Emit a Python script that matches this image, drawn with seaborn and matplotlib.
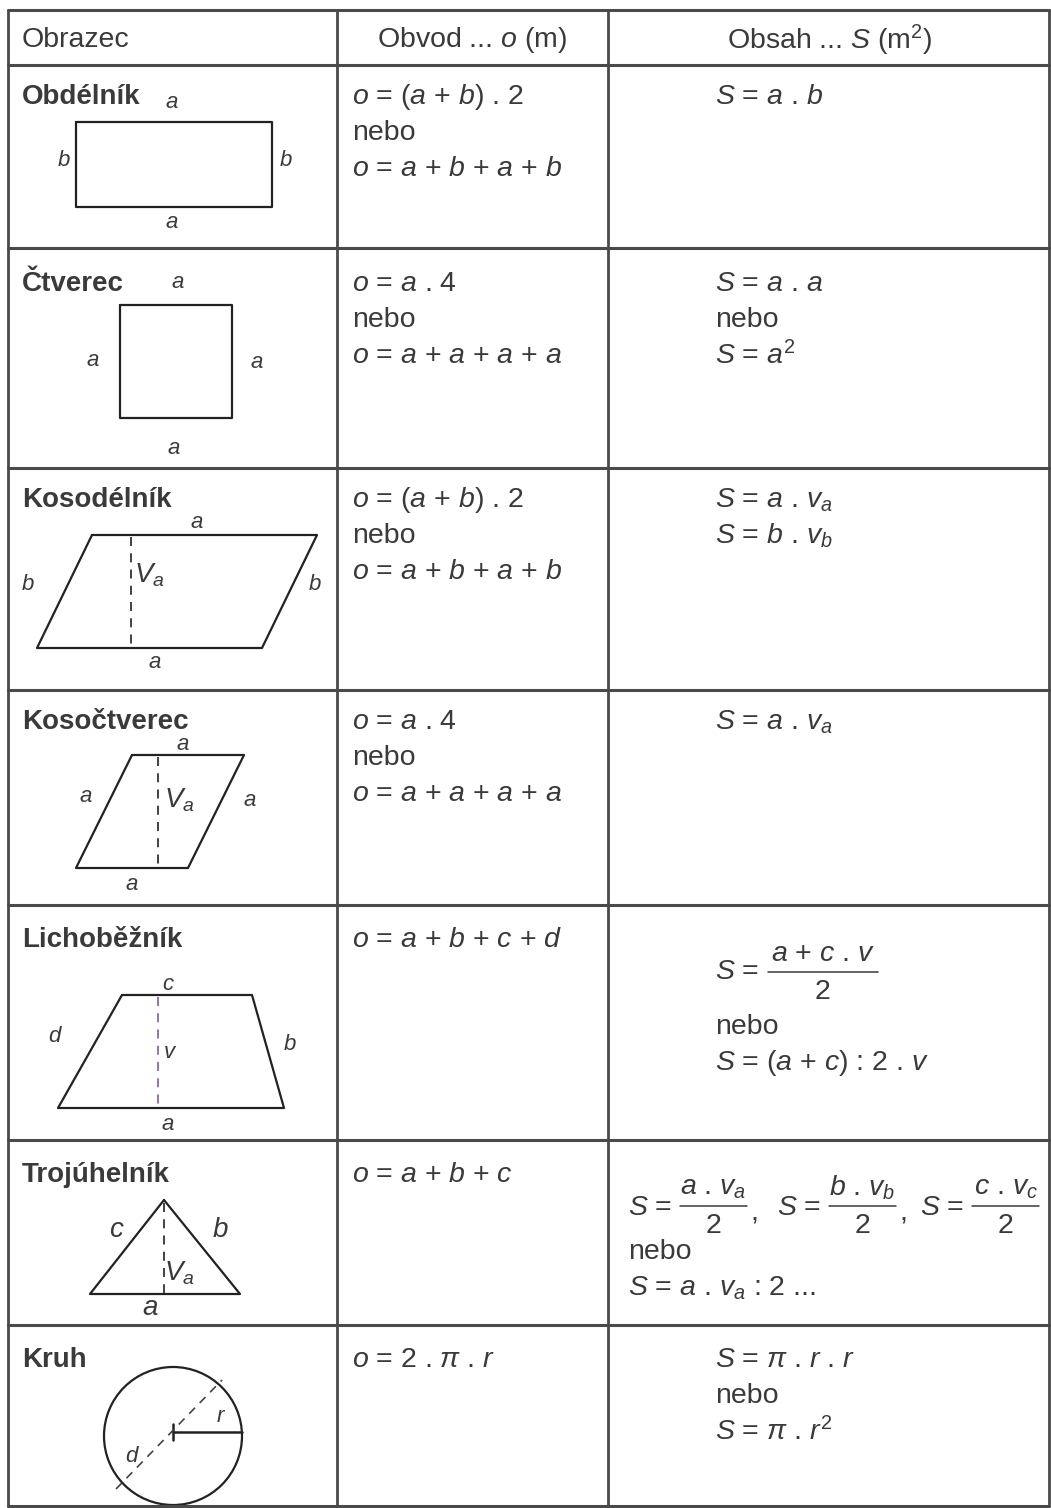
import matplotlib
matplotlib.use("Agg")
import matplotlib.pyplot as plt
import seaborn as sns
import pandas as pd
from matplotlib.patches import Ellipse

sns.set_theme(style="white")
plt.rcParams['font.family'] = ['Liberation Sans', 'DejaVu Sans']
plt.rcParams['mathtext.fontset'] = 'custom'
plt.rcParams['mathtext.rm'] = 'Liberation Sans'
plt.rcParams['mathtext.it'] = 'Liberation Sans:italic'
plt.rcParams['mathtext.bf'] = 'Liberation Sans:bold'

INK = '#3a3a3a'
LINE = '#4a4a4a'

# table data
headers = ['Obrazec', r'Obvod ... $o$ (m)', r'Obsah ... $S$ (m$^{\mathrm{2}}$)']
shape_names = ['Obdélník', 'Čtverec', 'Kosodélník', 'Kosočtverec',
               'Lichoběžník', 'Trojúhelník', 'Kruh']
perimeter = [
    [r'$o$ = ($a$ + $b$) . 2', 'nebo', r'$o$ = $a$ + $b$ + $a$ + $b$'],
    [r'$o$ = $a$ . 4', 'nebo', r'$o$ = $a$ + $a$ + $a$ + $a$'],
    [r'$o$ = ($a$ + $b$) . 2', 'nebo', r'$o$ = $a$ + $b$ + $a$ + $b$'],
    [r'$o$ = $a$ . 4', 'nebo', r'$o$ = $a$ + $a$ + $a$ + $a$'],
    [r'$o$ = $a$ + $b$ + $c$ + $d$'],
    [r'$o$ = $a$ + $b$ + $c$'],
    [r'$o$ = 2 . $\pi$ . $r$'],
]
area = [
    [r'$S$ = $a$ . $b$'],
    [r'$S$ = $a$ . $a$', 'nebo', r'$S$ = $a^{\mathrm{2}}$'],
    [r'$S$ = $a$ . $v_a$', r'$S$ = $b$ . $v_b$'],
    [r'$S$ = $a$ . $v_a$'],
    [],
    [],
    [r'$S$ = $\pi$ . $r$ . $r$', 'nebo', r'$S$ = $\pi$ . $r^{\mathrm{2}}$'],
]
trap_fraction = (r'$a$ + $c$ . $v$', '2')
trap_lines = ['nebo', r'$S$ = ($a$ + $c$) : 2 . $v$']
tri_fractions = [(r'$a$ . $v_a$', '2'), (r'$b$ . $v_b$', '2'), (r'$c$ . $v_c$', '2')]
tri_lines = ['nebo', r'$S$ = $a$ . $v_a$ : 2 ...']

# table layout (pixels)
col_x = [8, 337, 608, 1049]
row_y = [10, 65, 248, 468, 690, 905, 1140, 1325, 1506]
title_y = [97, 284, 500, 722, 940, 1175, 1360]

# shape outlines
outlines = {
    'Obdélník': [(76, 122), (272, 122), (272, 207), (76, 207), (76, 122)],
    'Čtverec': [(120, 305), (232, 305), (232, 418), (120, 418), (120, 305)],
    'Kosodélník': [(92, 535), (317, 535), (262, 648), (37, 648), (92, 535)],
    'Kosočtverec': [(132, 755), (244, 755), (188, 868), (76, 868), (132, 755)],
    'Lichoběžník': [(122, 995), (252, 995), (284, 1108), (58, 1108), (122, 995)],
    'Trojúhelník': [(164, 1200), (240, 1294), (90, 1294), (164, 1200)],
}
heights = {
    'Kosodélník': ((131, 537), (131, 646)),
    'Kosočtverec': ((158, 757), (158, 866)),
    'Lichoběžník': ((158, 997), (158, 1105)),
    'Trojúhelník': ((164, 1203), (164, 1294)),
}
edge_labels = [
    (172, 103, '$a$'), (64, 160, '$b$'), (286, 160, '$b$'), (172, 222, '$a$'),
    (178, 283, '$a$'), (93, 360, '$a$'), (257, 362, '$a$'), (174, 448, '$a$'),
    (197, 523, '$a$'), (28, 585, '$b$'), (315, 585, '$b$'), (155, 663, '$a$'),
    (183, 745, '$a$'), (86, 797, '$a$'), (250, 800, '$a$'), (132, 884, '$a$'),
    (168, 985, '$c$'), (55, 1037, '$d$'), (290, 1045, '$b$'), (170, 1053, '$v$'), (168, 1125, '$a$'),
]
big_labels = [
    (149, 575, '$V_a$'), (179, 800, '$V_a$'),
    (117, 1230, '$c$'), (220, 1230, '$b$'), (179, 1273, '$V_a$'), (150, 1308, '$a$'),
]
circle_center = (173, 1436)
circle_size = (138, 138)

fig = plt.figure(figsize=(10.51, 15.08), dpi=100)
ax = fig.add_axes([0, 0, 1, 1])

fs = 20.5
step = 36

# grid
for x in col_x:
    ax.plot([x, x], [row_y[0], row_y[-1]], color=LINE, lw=2)
for y in row_y:
    ax.plot([col_x[0], col_x[-1]], [y, y], color=LINE, lw=2.2)

# header
ax.text(22, 40, headers[0], fontsize=fs, color=INK, va='center')
ax.text(472, 40, headers[1], fontsize=fs, color=INK, va='center', ha='center')
ax.text(830, 40, headers[2], fontsize=fs, color=INK, va='center', ha='center')

for i, name in enumerate(shape_names):
    y0 = title_y[i]
    ax.text(22, y0, name, fontsize=20, fontweight='bold', color=INK, va='center')
    for j, line in enumerate(perimeter[i]):
        ax.text(352, y0 + j * step, line, fontsize=fs, color=INK, va='center')
    for j, line in enumerate(area[i]):
        ax.text(715, y0 + j * step, line, fontsize=fs, color=INK, va='center')

# shapes through seaborn
for name, pts in outlines.items():
    df = pd.DataFrame(pts, columns=['x', 'y'])
    sns.lineplot(data=df, x='x', y='y', sort=False, estimator=None,
                 color='#222222', lw=1.6, ax=ax)
for name, (p1, p2) in heights.items():
    c = '#8a6a9a' if name == 'Lichoběžník' else '#333333'
    ax.plot([p1[0], p2[0]], [p1[1], p2[1]], color=c, lw=1.3, ls=(0, (5, 4)))

for x, y, t in edge_labels:
    ax.text(x, y, t, fontsize=16, color=INK, ha='center', va='center')
for x, y, t in big_labels:
    ax.text(x, y, t, fontsize=20, color=INK, ha='center', va='center')

# circle
cx, cy = circle_center
ax.add_patch(Ellipse(circle_center, circle_size[0], circle_size[1], fill=False,
                     ec='#222222', lw=1.6))
ax.plot([cx, cx + circle_size[0] / 2], [cy - 4, cy - 4], color='#222222', lw=1.8)
ax.plot([cx, cx], [cy - 12, cy + 4], color='#222222', lw=1.8)
ax.plot([cx - 57, cx + 49], [cy + 53, cy - 56], color='#444444', lw=1.2, ls=(0, (5, 4)))
ax.text(cx + 48, cy - 20, '$r$', fontsize=16, color=INK, ha='center', va='center')
ax.text(cx - 41, cy + 21, '$d$', fontsize=16, color=INK, ha='center', va='center')


def fraction(x, y, num, den, width):
    ax.text(x + width / 2, y - 18, num, fontsize=fs, color=INK, ha='center', va='center')
    ax.plot([x, x + width], [y, y], color=INK, lw=1.1)
    ax.text(x + width / 2, y + 20, den, fontsize=fs, color=INK, ha='center', va='center')


# trapezoid area
ax.text(715, 972, '$S$ =', fontsize=fs, color=INK, va='center')
fraction(768, 972, trap_fraction[0], trap_fraction[1], 110)
for j, line in enumerate(trap_lines):
    ax.text(715, 1027 + j * step, line, fontsize=fs, color=INK, va='center')

# triangle area
tri_x = [628, 777, 920]
for k, (num, den) in enumerate(tri_fractions):
    ax.text(tri_x[k], 1208, '$S$ =', fontsize=fs, color=INK, va='center')
    fraction(tri_x[k] + 52, 1206, num, den, 67)
    if k < 2:
        ax.text(tri_x[k] + 122, 1214, ',', fontsize=fs, color=INK, va='center')
for j, line in enumerate(tri_lines):
    ax.text(628, 1252 + j * step, line, fontsize=fs, color=INK, va='center')

ax.set_xlim(0, 1051)
ax.set_ylim(1508, 0)
ax.axis('off')

fig.savefig('out.png', dpi=100, facecolor='white')
